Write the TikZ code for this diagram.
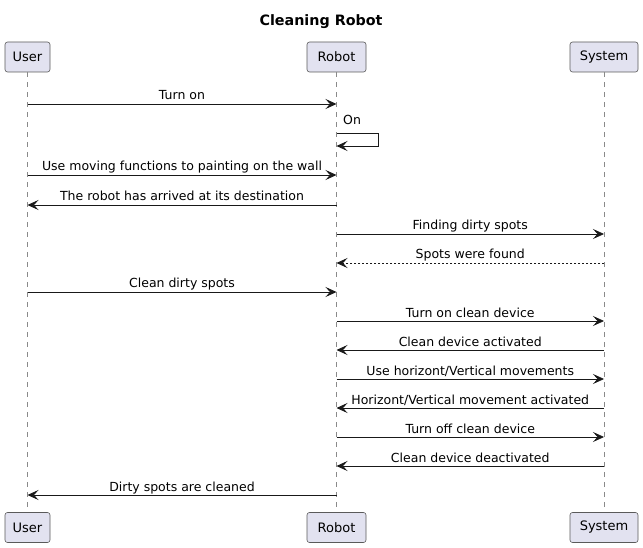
\documentclass[tikz,border=0pt]{standalone}
\usepackage{fontspec}
\setmainfont{DejaVu Sans}
\usetikzlibrary{arrows.meta}
\definecolor{partfill}{HTML}{E2E2F0}
\definecolor{partline}{HTML}{5A5A5A}
\definecolor{lifeline}{HTML}{8A8A8A}
\begin{document}
\begin{tikzpicture}[x=1pt,y=-1pt,
  participant/.style={draw=partline,fill=partfill,rounded corners=2.5pt,line width=0.6pt,minimum height=30pt,inner sep=0pt,font=\fontsize{13}{15}\selectfont},
  lifel/.style={draw=lifeline,line width=0.6pt,dash pattern=on 5pt off 5pt},
  msg/.style={draw=black!90,line width=0.8pt,-{Stealth[length=11pt,width=10pt,inset=4.5pt]}},
  reply/.style={msg,dash pattern=on 2pt off 2pt},
  lbl/.style={font=\fontsize{12.5}{14}\selectfont,inner sep=0pt,anchor=base,yshift=4pt}]
\useasboundingbox (0,0) rectangle (643,548);
\node[font=\bfseries\fontsize{14.3}{16}\selectfont] (title) at (321,22) {Cleaning Robot};
% participants top
\node[participant,minimum width=45pt] (ut) at (27.5,57) {User};
\node[participant,minimum width=59pt] (rt) at (336.5,57) {Robot};
\node[participant,minimum width=68pt] (st) at (604,57) {System};
% participants bottom
\node[participant,minimum width=45pt] (ub) at (27.5,527.5) {User};
\node[participant,minimum width=59pt] (rb) at (336.5,527.5) {Robot};
\node[participant,minimum width=68pt] (sb) at (604,527.5) {System};
% lifelines
\draw[lifel] (ut.south) -- (ub.north);
\draw[lifel] (rt.south) -- (rb.north);
\draw[lifel] (st.south) -- (sb.north);
% message anchor points
\def\U{27.5}\def\R{336.5}\def\S{604}
\foreach \n/\y in {1/104,3/175,4/205,5/234,6/263,7/292,8/321,9/350,10/379,11/408,12/437,13/466,14/495}{
  \coordinate (u\n) at (\U,\y);
  \coordinate (r\n) at (\R,\y);
  \coordinate (s\n) at (\S,\y);
}
\coordinate (r2a) at (\R,133);
\coordinate (r2b) at (\R,146);
% messages
\draw[msg] (u1) -- node[lbl]{Turn on} (r1);
\draw[msg] (r2a) -- ++(42,0) |- (r2b);
\node[lbl,anchor=base west,yshift=0pt] (on) at (343,128.5) {On};
\draw[msg] (u3) -- node[lbl]{Use moving functions to painting on the wall} (r3);
\draw[msg] (r4) -- node[lbl]{The robot has arrived at its destination} (u4);
\draw[msg] (r5) -- node[lbl]{Finding dirty spots} (s5);
\draw[reply] (s6) -- node[lbl]{Spots were found} (r6);
\draw[msg] (u7) -- node[lbl]{Clean dirty spots} (r7);
\draw[msg] (r8) -- node[lbl]{Turn on clean device} (s8);
\draw[msg] (s9) -- node[lbl]{Clean device activated} (r9);
\draw[msg] (r10) -- node[lbl]{Use horizont/Vertical movements} (s10);
\draw[msg] (s11) -- node[lbl]{Horizont/Vertical movement activated} (r11);
\draw[msg] (r12) -- node[lbl]{Turn off clean device} (s12);
\draw[msg] (s13) -- node[lbl]{Clean device deactivated} (r13);
\draw[msg] (r14) -- node[lbl]{Dirty spots are cleaned} (u14);
\end{tikzpicture}
\end{document}
